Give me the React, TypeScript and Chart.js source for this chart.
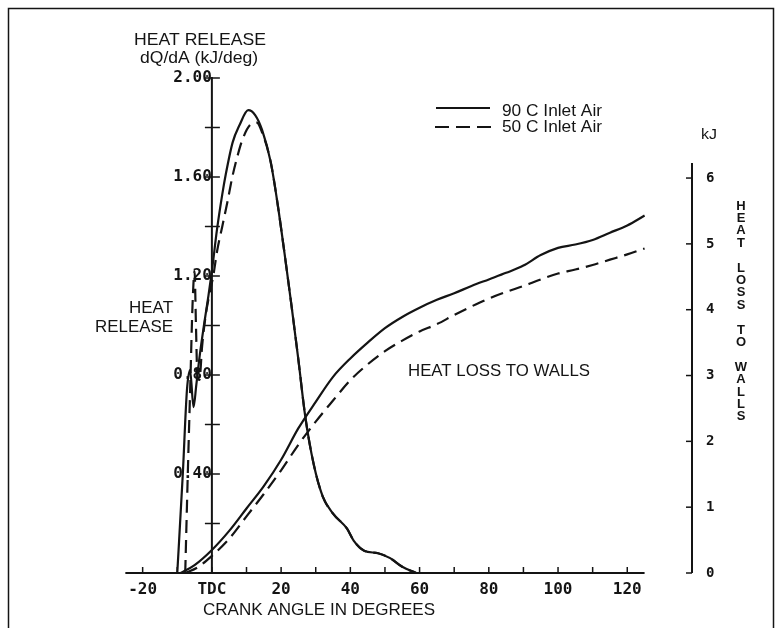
import React, { useEffect, useRef } from 'react';
import { Chart, registerables } from 'chart.js';

Chart.register(...registerables);

// ---------- data ----------
// Heat release rate dQ/dA (kJ/deg), 90 C inlet air (solid)
const hr90Angle = [-10, -8.4, -7.2, -6.3, -5.3, -4.5, -3.5, -2.3, -1, 0, 1.5, 3, 4, 6, 8, 10.5, 12.5, 14.5, 17, 19, 21, 23, 25, 27, 29.4, 32, 35, 39, 41, 44, 48, 51.5, 55, 59];
const hr90Value = [0, 0.4, 0.74, 0.82, 0.67, 0.76, 0.88, 1.0, 1.12, 1.22, 1.39, 1.53, 1.61, 1.74, 1.81, 1.87, 1.85, 1.79, 1.66, 1.49, 1.29, 1.08, 0.86, 0.63, 0.44, 0.31, 0.24, 0.18, 0.13, 0.09, 0.08, 0.06, 0.025, 0];
// Heat release rate, 50 C inlet air (dashed)
const hr50Angle = [-7.7, -7, -6.2, -5.6, -5, -4.6, -4.2, -3.6, -2.8, -1.8, -0.8, 0.4, 1.5, 3, 4.5, 5.9, 7.5, 8.8, 11, 13, 14.5, 17, 19, 21, 23, 25, 27, 29.4, 32, 35, 39, 41, 44, 48, 51.5, 55, 59];
const hr50Value = [0, 0.38, 0.78, 1.08, 1.22, 1.0, 0.8, 0.78, 0.92, 1.04, 1.12, 1.2, 1.3, 1.4, 1.5, 1.6, 1.69, 1.75, 1.81, 1.82, 1.78, 1.66, 1.49, 1.29, 1.08, 0.86, 0.63, 0.44, 0.31, 0.24, 0.18, 0.13, 0.09, 0.08, 0.06, 0.025, 0];
// Heat loss to walls (kJ), 90 C inlet air (solid)
const hl90Angle = [-9, -5, 0, 5, 10, 15, 20, 25, 30, 35, 40, 45, 50, 55, 60, 65, 70, 75, 80, 85, 90, 95, 100, 105, 110, 115, 120, 125];
const hl90Value = [0, 0.12, 0.35, 0.64, 0.98, 1.32, 1.72, 2.2, 2.6, 2.98, 3.26, 3.5, 3.72, 3.89, 4.03, 4.15, 4.25, 4.36, 4.46, 4.56, 4.67, 4.83, 4.94, 4.99, 5.06, 5.17, 5.28, 5.43];
// Heat loss to walls (kJ), 50 C inlet air (dashed)
const hl50Angle = [-7.7, -4, 0, 5, 10, 15, 20, 25, 30, 35, 40, 45, 50, 55, 60, 65, 70, 75, 80, 85, 90, 95, 100, 105, 110, 115, 120, 125];
const hl50Value = [0, 0.09, 0.26, 0.52, 0.86, 1.2, 1.56, 1.95, 2.3, 2.62, 2.93, 3.17, 3.37, 3.53, 3.67, 3.78, 3.92, 4.05, 4.17, 4.27, 4.36, 4.46, 4.55, 4.61, 4.68, 4.76, 4.84, 4.93];

const xLabelValues = [-20, 0, 20, 40, 60, 80, 100, 120];
const xTickValues = [-20, -10, 0, 10, 20, 30, 40, 50, 60, 70, 80, 90, 100, 110, 120];
const leftLabelValues = [0.4, 0.8, 1.2, 1.6, 2.0];
const leftTickValues = [0.2, 0.4, 0.6, 0.8, 1.0, 1.2, 1.4, 1.6, 1.8, 2.0];
const rightTickValues = [0, 1, 2, 3, 4, 5, 6];
const seriesNames = ['90 C Inlet Air', '50 C Inlet Air'];

const INK = '#141414';
const SANS = "'Liberation Sans', Arial, sans-serif";
const MONO = "'DejaVu Sans Mono', monospace";

const zip = (xs: number[], ys: number[]) => xs.map((x, i) => ({ x, y: ys[i] }));

function txt(ctx: CanvasRenderingContext2D, s: string, x: number, y: number, font: string, align: CanvasTextAlign, width?: number) {
  ctx.save();
  ctx.font = font;
  ctx.fillStyle = INK;
  ctx.textBaseline = 'middle';
  ctx.textAlign = align;
  const w = ctx.measureText(s).width;
  ctx.translate(x, y);
  if (width) ctx.scale(width / w, 1);
  ctx.fillText(s, 0, 0);
  ctx.restore();
}

function seg(ctx: CanvasRenderingContext2D, x1: number, y1: number, x2: number, y2: number) {
  ctx.beginPath();
  ctx.moveTo(x1, y1);
  ctx.lineTo(x2, y2);
  ctx.stroke();
}

const decor = {
  id: 'decor',
  afterDraw(chart: any) {
    const ctx: CanvasRenderingContext2D = chart.ctx;
    const xs = chart.scales.x;
    const ys = chart.scales.y;
    const yr = chart.scales.y2;
    ctx.save();
    ctx.strokeStyle = INK;
    ctx.lineCap = 'butt';

    // outer frame
    ctx.lineWidth = 1.5;
    ctx.beginPath();
    ctx.moveTo(8.5, 628);
    ctx.lineTo(8.5, 8.5);
    ctx.lineTo(773.5, 8.5);
    ctx.lineTo(773.5, 628);
    ctx.stroke();

    // x axis line + inward ticks
    const y0 = ys.getPixelForValue(0);
    ctx.lineWidth = 2;
    seg(ctx, xs.getPixelForValue(-25), y0, xs.getPixelForValue(125), y0);
    ctx.lineWidth = 1.5;
    xTickValues.forEach((v) => {
      const p = xs.getPixelForValue(v);
      seg(ctx, p, y0, p, y0 - 6);
    });

    // left axis at TDC
    const x0 = xs.getPixelForValue(0);
    ctx.lineWidth = 2;
    seg(ctx, x0, y0, x0, ys.getPixelForValue(2.0) - 1);
    ctx.lineWidth = 1.5;
    leftTickValues.forEach((v) => {
      const p = ys.getPixelForValue(v);
      seg(ctx, x0 - 7, p, x0 + 8, p);
    });

    // right axis
    const xr = chart.chartArea.right;
    ctx.lineWidth = 2;
    seg(ctx, xr, yr.getPixelForValue(0), xr, yr.getPixelForValue(6.23));
    ctx.lineWidth = 1.5;
    rightTickValues.forEach((v) => {
      const p = yr.getPixelForValue(v);
      seg(ctx, xr - 6, p, xr, p);
    });

    // legend
    ctx.lineWidth = 2;
    seg(ctx, 436, 108, 490, 108);
    ctx.setLineDash([14, 7]);
    seg(ctx, 435, 127, 491, 127);
    ctx.setLineDash([]);
    txt(ctx, seriesNames[0], 502, 112, `16px ${SANS}`, 'left', 100);
    txt(ctx, seriesNames[1], 502, 128, `16px ${SANS}`, 'left', 100);

    // labels
    txt(ctx, 'HEAT RELEASE', 200, 40, `17px ${SANS}`, 'center', 132);
    txt(ctx, 'dQ/dA (kJ/deg)', 199, 58, `17px ${SANS}`, 'center', 118);
    txt(ctx, 'HEAT', 173, 308, `17px ${SANS}`, 'right', 44);
    txt(ctx, 'RELEASE', 173, 327, `17px ${SANS}`, 'right', 78);
    txt(ctx, 'HEAT LOSS TO WALLS', 408, 371, `17px ${SANS}`, 'left', 182);
    txt(ctx, 'CRANK ANGLE IN DEGREES', 203, 610, `17px ${SANS}`, 'left', 232);
    txt(ctx, 'kJ', 701, 135, `15px ${SANS}`, 'left', 16);

    // vertical stacked right title
    const vt = 'HEAT LOSS TO WALLS';
    let yy = 206;
    for (const ch of vt) {
      if (ch !== ' ') txt(ctx, ch, 741, yy, `bold 13px ${SANS}`, 'center');
      yy += 12.4;
    }
    ctx.restore();
  },
};

export default function App() {
  const ref = useRef<HTMLCanvasElement | null>(null);

  useEffect(() => {
    if (!ref.current) return;
    const tickFont = { family: MONO, size: 16, weight: 'bold' as const };
    const chart = new Chart(ref.current, {
      type: 'line',
      data: {
        datasets: [
          { label: seriesNames[0], data: zip(hr90Angle, hr90Value), yAxisID: 'y', borderColor: INK, borderWidth: 2.2, pointRadius: 0, fill: false, cubicInterpolationMode: 'monotone' },
          { label: seriesNames[1], data: zip(hr50Angle, hr50Value), yAxisID: 'y', borderColor: INK, borderWidth: 2.2, borderDash: [13, 7], pointRadius: 0, fill: false, cubicInterpolationMode: 'monotone' },
          { label: 'Heat loss ' + seriesNames[0], data: zip(hl90Angle, hl90Value), yAxisID: 'y2', borderColor: INK, borderWidth: 2.2, pointRadius: 0, fill: false, cubicInterpolationMode: 'monotone' },
          { label: 'Heat loss ' + seriesNames[1], data: zip(hl50Angle, hl50Value), yAxisID: 'y2', borderColor: INK, borderWidth: 2.2, borderDash: [13, 7], pointRadius: 0, fill: false, cubicInterpolationMode: 'monotone' },
        ],
      },
      options: {
        responsive: false,
        animation: false,
        events: [],
        layout: { padding: { left: 125, top: 78, right: 0, bottom: 0 } },
        plugins: { legend: { display: false }, tooltip: { enabled: false } },
        scales: {
          x: {
            type: 'linear',
            position: 'bottom',
            min: -25.1,
            max: 138.7,
            grid: { display: false, drawTicks: false },
            border: { display: false },
            afterBuildTicks: (s: any) => { s.ticks = xLabelValues.map((v) => ({ value: v })); },
            afterFit: (s: any) => { s.height = 55; },
            ticks: {
              autoSkip: false,
              maxRotation: 0,
              padding: 7,
              color: INK,
              font: tickFont,
              callback: (v: any) => (Number(v) === 0 ? 'TDC' : String(v)),
            },
          },
          y: {
            type: 'linear',
            position: { x: 0 } as any,
            min: 0,
            max: 2.0,
            grid: { display: false, drawTicks: false },
            border: { display: false },
            afterBuildTicks: (s: any) => { s.ticks = leftLabelValues.map((v) => ({ value: v })); },
            ticks: {
              color: INK,
              font: tickFont,
              padding: 0,
              callback: (v: any) => Number(v).toFixed(2),
            },
          },
          y2: {
            type: 'linear',
            position: 'right',
            min: 0,
            max: 7.52,
            grid: { display: false, drawTicks: false },
            border: { display: false },
            afterBuildTicks: (s: any) => { s.ticks = rightTickValues.map((v) => ({ value: v })); },
            afterFit: (s: any) => { s.width = 90; },
            ticks: {
              color: INK,
              font: { family: MONO, size: 14, weight: 'bold' },
              padding: 14,
              callback: (v: any) => String(v),
            },
          },
        },
      } as any,
      plugins: [decor],
    });
    return () => chart.destroy();
  }, []);

  return (
    <div style={{ position: 'absolute', left: 0, top: 0, width: 782, height: 628, background: '#fff' }}>
      <canvas ref={ref} width={782} height={628} style={{ display: 'block', width: 782, height: 628 }} />
    </div>
  );
}
